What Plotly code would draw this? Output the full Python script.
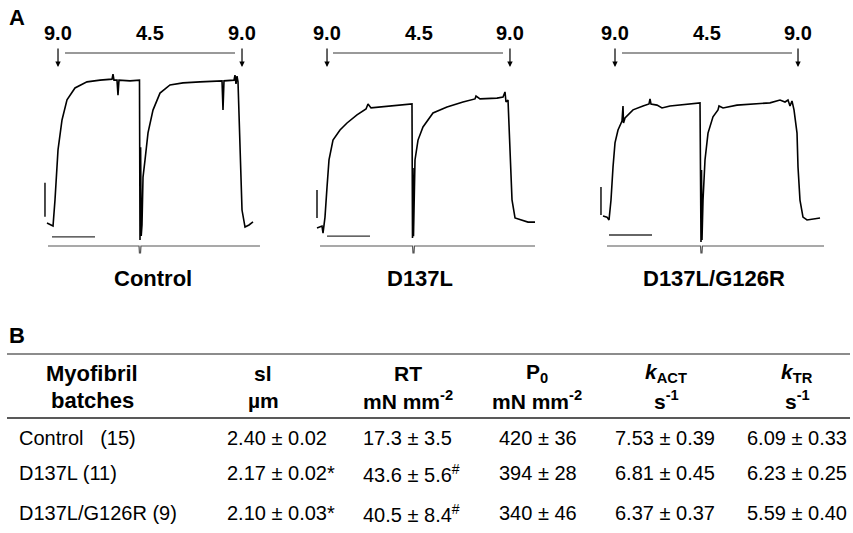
import plotly.graph_objects as go

W, H = 853, 533
FONT = "Liberation Sans, Arial, sans-serif"

# ---------------- DATA (panel A: force traces, time in s, force in mN mm^-2) -------------
ctrl_t = [0, 0.116, 0.140, 0.186, 0.256, 0.349, 0.465, 0.651, 0.930, 1.233, 1.512, 1.535, 1.558,
          1.628, 1.651, 1.674, 1.930, 2.151, 2.163, 2.177, 2.191, 2.209, 2.233, 2.279, 2.349,
          2.465, 2.628, 2.860, 3.163, 3.558, 4.023, 4.070, 4.093, 4.116, 4.349, 4.372, 4.395,
          4.419, 4.442, 4.488, 4.535, 4.605, 4.698, 4.791]
ctrl_f = [6, 0, -3, 74, 221, 309, 368, 403, 421, 426, 429, 444, 426,
          426, 382, 426, 424, 426, -44, 229, -32, 0, 141, 191, 271,
          338, 388, 412, 418, 421, 424, 424, 338, 424, 426, 441, 415,
          438, 421, 221, 44, -6, 0, 9]

d137_t = [0, 0.116, 0.140, 0.186, 0.233, 0.279, 0.372, 0.535, 0.698, 0.930, 1.140, 1.186,
          1.256, 1.465, 1.698, 1.860, 2.023, 2.209, 2.221, 2.233, 2.244, 2.267, 2.279, 2.349,
          2.465, 2.698, 3.023, 3.395, 3.674, 3.698, 3.791, 4.186, 4.326, 4.372, 4.395, 4.442,
          4.488, 4.535, 4.605, 4.674, 4.791, 4.907, 5.070]
d137_f = [0, 7, -18, 39, 146, 243, 314, 350, 375, 404, 425, 443,
          429, 432, 436, 439, 439, 443, -36, 214, -29, 100, 243, 314,
          361, 411, 432, 450, 461, 471, 461, 464, 468, 486, 450, 457,
          268, 100, 36, 32, 25, 21, 21]

dg_t = [0, 0.093, 0.140, 0.186, 0.233, 0.279, 0.349, 0.442, 0.465, 0.477, 0.512, 0.698,
        0.930, 1.070, 1.093, 1.116, 1.256, 1.372, 1.558, 1.953, 2.256, 2.279, 2.291, 2.302,
        2.326, 2.372, 2.442, 2.558, 2.674, 2.698, 2.791, 3.116, 3.488, 3.884, 4.116, 4.233,
        4.302, 4.349, 4.395, 4.442, 4.512, 4.535, 4.581, 4.651, 4.744, 4.884, 5.047]
dg_f = [0, -4, -14, 57, 175, 261, 307, 339, 393, 332, 350, 379,
        393, 400, 418, 400, 396, 386, 393, 400, 404, -93, 164, -86,
        57, 200, 296, 354, 379, 393, 386, 396, 400, 404, 414, 407,
        414, 393, 411, 379, 296, 175, 57, -4, -14, -11, -7]

# length signal (relative units): start, step release, end
ctrl_len_t = [0.023, 2.140, 2.150, 2.175, 2.185, 4.953]
d137_len_t = [0.070, 2.222, 2.232, 2.256, 2.266, 5.070]
dg_len_t = [0.093, 2.268, 2.278, 2.302, 2.312, 5.140]
len_v = [0, 0, -1, -1, 0, 0]

# solution switches (pCa) times, s
ctrl_switch = [0.256, 4.535]
d137_switch = [0.233, 4.488]
dg_switch = [0.279, 4.535]
ctrl_bar = [0.419, 4.372]
d137_bar = [0.372, 4.326]
dg_bar = [0.442, 4.395]
pca_labels = ["9.0", "4.5", "9.0"]

# scale bars: 1 s, 100 mN mm^-2
scale_time = 1.0
scale_force = 100

group_names = ["Control", "D137L", "D137L/G126R"]

# ---------------- DATA (panel B: table) -------------
batches = ["Control\u00a0\u00a0\u00a0(15)", "D137L (11)", "D137L/G126R (9)"]
sl = ["2.40 ± 0.02", "2.17 ± 0.02*", "2.10 ± 0.03*"]
rt = ["17.3 ± 3.5", "43.6 ± 5.6<sup>#</sup>", "40.5 ± 8.4<sup>#</sup>"]
p0 = ["420 ± 36", "394 ± 28", "340 ± 46"]
kact = ["7.53 ± 0.39", "6.81 ± 0.45", "6.37 ± 0.37"]
ktr = ["6.09 ± 0.33", "6.23 ± 0.25", "5.59 ± 0.40"]
header_top = ["Myofibril", "sl", "RT", "P<sub>0</sub>", "<i>k</i><sub>ACT</sub>", "<i>k</i><sub>TR</sub>"]
header_bot = ["batches", "µm", "mN mm<sup>-2</sup>", "mN mm<sup>-2</sup>", "s<sup>-1</sup>", "s<sup>-1</sup>"]


def px(x):
    return x / W


def py(y):
    return 1 - y / H


def note(x, y, text, size, xanchor="center", **kw):
    d = dict(xref="paper", yref="paper", x=px(x), y=py(y), text=text, showarrow=False,
             xanchor=xanchor, yanchor="middle", font=dict(size=size, color="black", family=FONT))
    d.update(kw)
    return d


# panel geometry (pixels)
panels = [
    dict(t=ctrl_t, f=ctrl_f, lt=ctrl_len_t, sw=ctrl_switch, bar=ctrl_bar, x0=47, base=225, sy=0.34,
         left=30, right=272, len_y=246, sbar_x=-0.047, sbar_f0=24, hbar_t0=0.116, hbar_f=-35,
         name_x=153),
    dict(t=d137_t, f=d137_f, lt=d137_len_t, sw=d137_switch, bar=d137_bar, x0=317, base=228, sy=0.28,
         left=300, right=548, len_y=246, sbar_x=0.0, sbar_f0=36, hbar_t0=0.233, hbar_f=-29,
         name_x=420),
    dict(t=dg_t, f=dg_f, lt=dg_len_t, sw=dg_switch, bar=dg_bar, x0=603, base=216, sy=0.28,
         left=585, right=845, len_y=246, sbar_x=-0.047, sbar_f0=4, hbar_t0=0.14, hbar_f=-68,
         name_x=714),
]
SX = 43.0
TOP, BOT = 20, 262

fig = go.Figure()
layout = dict(width=W, height=H, margin=dict(l=0, r=0, t=0, b=0), paper_bgcolor="white",
              plot_bgcolor="white", showlegend=False)
annotations = []
shapes = []

for i, p in enumerate(panels):
    k = "" if i == 0 else str(i + 1)
    xr = [(p["left"] - p["x0"]) / SX, (p["right"] - p["x0"]) / SX]
    yr = [(p["base"] - BOT) / p["sy"], (p["base"] - TOP) / p["sy"]]
    layout["xaxis" + k] = dict(domain=[px(p["left"]), px(p["right"])], range=xr, visible=False,
                               anchor="y" + k)
    layout["yaxis" + k] = dict(domain=[py(BOT), py(TOP)], range=yr, visible=False, anchor="x" + k)
    xa, ya = "x" + k, "y" + k
    len_f = (p["base"] - p["len_y"]) / p["sy"]
    len_scale = 7 / p["sy"]
    fig.add_trace(go.Scatter(x=p["lt"], y=[len_f + v * len_scale for v in len_v], mode="lines",
                             line=dict(color="#555", width=1.2), xaxis=xa, yaxis=ya))
    fig.add_trace(go.Scatter(x=p["t"], y=p["f"], mode="lines", line=dict(color="black", width=1.6),
                             xaxis=xa, yaxis=ya))
    # scale bars
    fig.add_trace(go.Scatter(x=[p["sbar_x"], p["sbar_x"]], y=[p["sbar_f0"], p["sbar_f0"] + scale_force],
                             mode="lines", line=dict(color="black", width=1.4), xaxis=xa, yaxis=ya))
    fig.add_trace(go.Scatter(x=[p["hbar_t0"], p["hbar_t0"] + scale_time], y=[p["hbar_f"], p["hbar_f"]],
                             mode="lines", line=dict(color="#333", width=1.4), xaxis=xa, yaxis=ya))
    # solution bar
    shapes.append(dict(type="line", xref=xa, yref="paper", x0=p["bar"][0], x1=p["bar"][1],
                       y0=py(53), y1=py(53), line=dict(color="#777", width=1.5)))
    for s in p["sw"]:
        annotations.append(dict(xref=xa, yref="paper", x=s, y=py(67), ax=0, ay=-20, text="",
                                showarrow=True, arrowhead=2, arrowsize=0.9, arrowwidth=1.2,
                                arrowcolor="black"))
    xs = [p["sw"][0], (p["sw"][0] + p["sw"][1]) / 2, p["sw"][1]]
    for xv, lab in zip(xs, pca_labels):
        annotations.append(dict(xref=xa, yref="paper", x=xv, y=py(33), text="<b>%s</b>" % lab,
                                showarrow=False, xanchor="center", yanchor="middle",
                                font=dict(size=20, color="black", family=FONT)))
    annotations.append(note(p["name_x"], 278, "<b>%s</b>" % group_names[i], 22))

annotations.append(note(7, 18, "<b>A</b>", 22, xanchor="left"))
annotations.append(note(7, 335, "<b>B</b>", 22, xanchor="left"))

# table rules
shapes.append(dict(type="line", xref="paper", yref="paper", x0=px(7), x1=px(850), y0=py(354), y1=py(354),
                   line=dict(color="#666", width=1.5)))
shapes.append(dict(type="line", xref="paper", yref="paper", x0=px(7), x1=px(850), y0=py(418), y1=py(418),
                   line=dict(color="#222", width=1.6)))

head_x = [92, 263, 408, 537, 666, 797]
for j, (hx, ht, hb) in enumerate(zip(head_x, header_top, header_bot)):
    sz = 22 if j == 0 else 21
    annotations.append(note(hx, 373, "<b>%s</b>" % ht, sz))
    annotations.append(note(hx, 400, "<b>%s</b>" % hb, sz))

col_x = [17, 225, 361, 497, 613, 745]
row_y = [438, 473, 513]
cols = [batches, sl, rt, p0, kact, ktr]
for cx, col in zip(col_x, cols):
    for ry, val in zip(row_y, col):
        annotations.append(note(cx, ry, val, 20, xanchor="left"))

layout["annotations"] = annotations
layout["shapes"] = shapes
fig.update_layout(**layout)
fig.write_html("out.html", config={"displayModeBar": False},
               post_script="document.body.style.margin='0px';")
